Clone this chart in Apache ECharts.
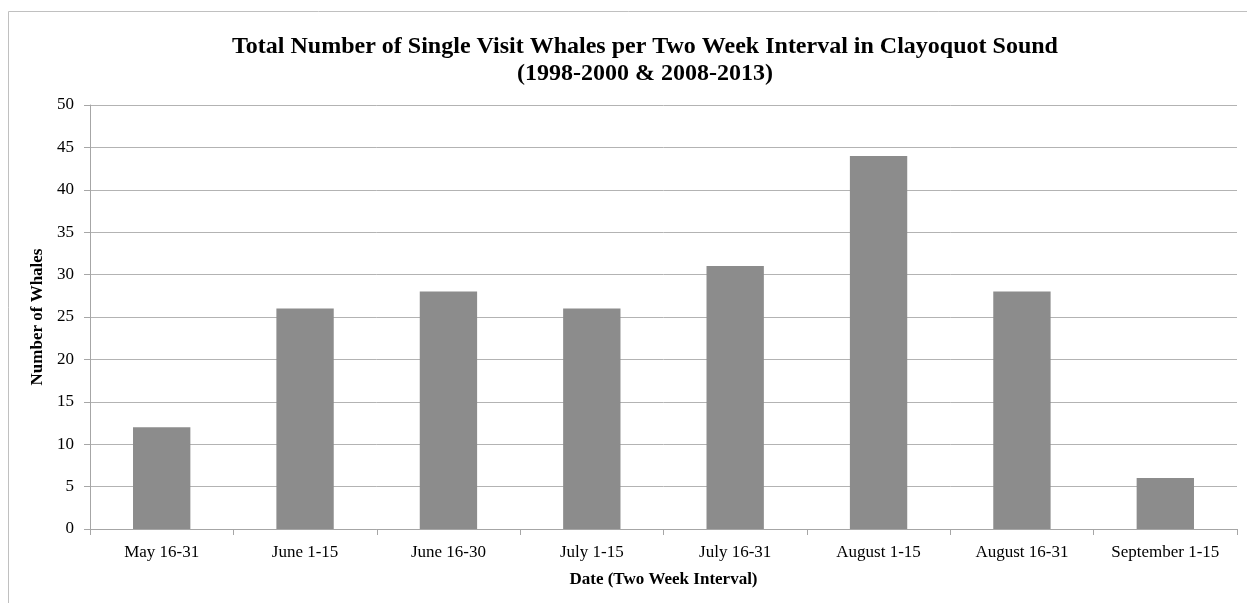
<!DOCTYPE html>
<html><head><meta charset="utf-8">
<script src="https://cdn.jsdelivr.net/npm/echarts@6/dist/echarts.min.js"></script>
<style>html,body{margin:0;padding:0;background:#fff}#c{width:1247px;height:603px}</style>
</head><body><div id="c"></div>
<script>
const categories = ['May 16-31','June 1-15','June 16-30','July 1-15','July 16-31','August 1-15','August 16-31','September 1-15'];
const whales = [12, 26, 28, 26, 31, 44, 28, 6];
const titleText = 'Total Number of Single Visit Whales per Two Week Interval in Clayoquot Sound\n(1998-2000 & 2008-2013)';
const xName = 'Date (Two Week Interval)';
const yName = 'Number of Whales';

const chart = echarts.init(document.getElementById('c'));
const serif = '"Liberation Serif", "Times New Roman", serif';
chart.setOption({
  animation: false,
  backgroundColor: '#fff',
  graphic: [{type:'rect', shape:{x:8.5,y:11.5,width:1250,height:600}, style:{fill:'none', stroke:'#c0c0c0', lineWidth:1}, silent:true}],
  title: {
    text: titleText, left: 640, top: 28, textAlign: 'center',
    textStyle: {fontFamily: serif, fontWeight: 'bold', fontSize: 24, color: '#000', lineHeight: 27, align:'center'}
  },
  grid: {left: 90, right: 10, top: 105, bottom: 74, containLabel: false},
  xAxis: {
    type: 'category', data: categories,
    name: xName, nameLocation: 'middle', nameGap: 42,
    nameTextStyle: {fontFamily: serif, fontWeight: 'bold', fontSize: 17, color: '#000'},
    axisLine: {lineStyle: {color: '#a6a6a6'}},
    axisTick: {show: true, alignWithLabel: false, length: 6, lineStyle: {color: '#a6a6a6'}},
    axisLabel: {fontFamily: serif, fontSize: 17, color: '#000', margin: 15, interval: 0}
  },
  yAxis: {
    type: 'value', min: 0, max: 50, interval: 5,
    name: yName, nameLocation: 'middle', nameGap: 35, nameRotate: 90,
    nameTextStyle: {fontFamily: serif, fontWeight: 'bold', fontSize: 17, color: '#000'},
    axisLine: {show: true, lineStyle: {color: '#a6a6a6'}},
    axisTick: {show: true, length: 6, lineStyle: {color: '#a6a6a6'}},
    axisLabel: {fontFamily: serif, fontSize: 17, color: '#000', margin: 16},
    splitLine: {lineStyle: {color: '#b3b3b3', width: 1}}
  },
  series: [{
    type: 'bar', data: whales, barCategoryGap: '60%',
    itemStyle: {color: '#8c8c8c'}
  }]
});
</script></body></html>
